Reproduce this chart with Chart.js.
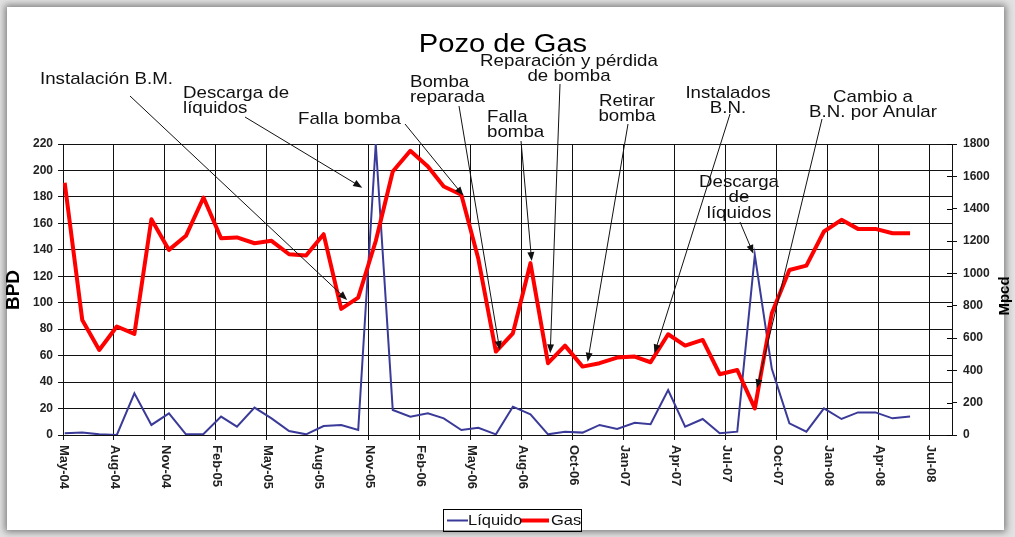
<!DOCTYPE html>
<html>
<head>
<meta charset="utf-8">
<script src="https://cdn.jsdelivr.net/npm/chart.js@4.4.1/dist/chart.umd.min.js"></script>
<style>
  html, body { margin: 0; padding: 0; width: 1015px; height: 537px; overflow: hidden; background: #e2e2e2; }
  #panel { position: absolute; left: 7px; top: 7px; width: 997px; height: 523px; background: #fff;
           box-shadow: 0 0 7px 2px rgba(0,0,0,0.45); }
  #wrap { position: absolute; left: 0; top: 0; width: 1015px; height: 537px; }
</style>
</head>
<body>
<div id="panel"></div>
<div id="wrap"><canvas id="c"></canvas></div>
<script>
// Monthly production records (one sample per month, dated mid-month)
const months = [
  '2004-05','2004-06','2004-07','2004-08','2004-09','2004-10','2004-11','2004-12',
  '2005-01','2005-02','2005-03','2005-04','2005-05','2005-06','2005-07','2005-08','2005-09','2005-10','2005-11','2005-12',
  '2006-01','2006-02','2006-03','2006-04','2006-05','2006-06','2006-07','2006-08','2006-09','2006-10','2006-11','2006-12',
  '2007-01','2007-02','2007-03','2007-04','2007-05','2007-06','2007-07','2007-08','2007-09','2007-10','2007-11','2007-12',
  '2008-01','2008-02','2008-03','2008-04','2008-05','2008-06'
];

// Liquid rate, BPD (left axis)
const liquido = [
  1.3, 1.8, 0.5, 0, 31.5, 7.6, 16.4, 0.5,
  0.8, 13.9, 6.3, 20.7, 12.6, 3.0, 0.5, 6.8, 7.6, 3.8, 220, 18.9,
  13.9, 16.4, 12.6, 3.8, 5.5, 0.5, 21.4, 15.6, 0.5, 2.5, 1.8, 7.6,
  4.5, 9.2, 8.1, 34.0, 6.3, 12.1, 1.3, 2.5, 136, 50, 8.8, 2.5,
  20.2, 12.1, 17.1, 17.1, 12.6, 13.9
];

// Gas rate, Mpcd (right axis)
const gas = [
  1560, 712, 526, 671, 625, 1335, 1145, 1232,
  1469, 1217, 1222, 1186, 1201, 1118, 1110, 1242, 780, 850, 1200, 1630,
  1758, 1661, 1537, 1486, 1090, 516, 629, 1063, 444, 553, 423, 444,
  479, 485, 450, 623, 553, 588, 376, 402, 165, 753, 1021, 1048,
  1259, 1331, 1275, 1275, 1248, 1248
];

// Date axis: major unit of 90 days starting 13-May-2004
const tickLabels = ['May-04','Aug-04','Nov-04','Feb-05','May-05','Aug-05','Nov-05','Feb-06','May-06',
                    'Aug-06','Oct-06','Jan-07','Apr-07','Jul-07','Oct-07','Jan-08','Apr-08','Jul-08'];
const tickStepDays = 90;
const axisStart = Date.UTC(2004, 4, 13);
const axisSpanDays = 1569;

const bpdTicks = { min: 0, max: 220, step: 20 };
const mpcdTicks = { min: 0, max: 1800, step: 200 };

const DAY = 86400000;
const dayOf = ym => {
  const [y, m] = ym.split('-').map(Number);
  return (Date.UTC(y, m - 1, 16) - axisStart) / DAY;
};
const xDays = months.map(dayOf);
const xAtIndex = f => {
  const i = Math.min(Math.floor(f), xDays.length - 2);
  return xDays[i] + (xDays[i + 1] - xDays[i]) * (f - i);
};

// Event notes: text block, arrow start, and arrow target in data space [month index, value, axis]
const notes = [
  { text: ['Instalación B.M.'], x: 40, y: 79, align: 'left', from: [130, 96], at: [16.35, 835, 'y1'] },
  { text: ['Descarga de', 'líquidos'], x: 183, y: 93, align: 'left', from: [245, 117], at: [17.23, 187, 'y'] },
  { text: ['Falla bomba'], x: 298, y: 119, align: 'left', from: [405, 124], at: [23.12, 1481, 'y1'] },
  { text: ['Bomba', 'reparada'], x: 410, y: 82, align: 'left', from: [459, 106], at: [25.23, 526, 'y1'] },
  { text: ['Reparación y pérdida', 'de bomba'], x: 569, y: 61, align: 'center', from: [560, 84], at: [28.13, 505, 'y1'] },
  { text: ['Falla', 'bomba'], x: 487, y: 117, align: 'left', from: [521, 141], at: [27.07, 1076, 'y1'] },
  { text: ['Retirar', 'bomba'], x: 627, y: 101, align: 'center', from: [628, 124], at: [30.3, 453, 'y1'] },
  { text: ['Instalados', 'B.N.'], x: 728, y: 93, align: 'center', from: [730, 114], at: [34.22, 505, 'y1'] },
  { text: ['Cambio a', 'B.N. por Anular'], x: 873, y: 97, align: 'center', from: [822, 119], at: [40.12, 289, 'y1'] },
  { text: ['Descarga', 'de', 'líquidos'], x: 739, y: 182, align: 'center', from: [740, 222], at: [39.92, 137, 'y'] }
];

const FONT = '"Liberation Sans", Arial, Helvetica, sans-serif';
const BLUE = '#3a3a98';
const RED = '#ff0000';

function wideText(ctx, str, x, y, align, sx) {
  ctx.save();
  ctx.translate(x, y);
  ctx.scale(sx, 1);
  ctx.textAlign = align;
  ctx.fillText(str, 0, 0);
  ctx.restore();
}

function arrow(ctx, x0, y0, x1, y1) {
  const a = Math.atan2(y1 - y0, x1 - x0), L = 9, W = 3.5;
  const c = Math.cos(a), s = Math.sin(a);
  ctx.beginPath();
  ctx.moveTo(x0, y0);
  ctx.lineTo(x1 - L * 0.6 * c, y1 - L * 0.6 * s);
  ctx.stroke();
  ctx.beginPath();
  ctx.moveTo(x1, y1);
  ctx.lineTo(x1 - L * c + W * s, y1 - L * s - W * c);
  ctx.lineTo(x1 - L * c - W * s, y1 - L * s + W * c);
  ctx.closePath();
  ctx.fill();
}

const decor = {
  id: 'decor',
  afterDraw(chart) {
    const ctx = chart.ctx;
    const xs = chart.scales.x, yr = chart.scales.y1;
    ctx.save();

    // inner half of the right-axis tick marks
    ctx.strokeStyle = '#000';
    ctx.lineWidth = 1;
    yr.ticks.forEach(t => {
      const py = Math.round(yr.getPixelForValue(t.value)) + 0.5;
      ctx.beginPath();
      ctx.moveTo(yr.left - 5, py);
      ctx.lineTo(yr.left, py);
      ctx.stroke();
    });

    // date labels, rotated clockwise
    ctx.fillStyle = '#222';
    ctx.font = 'bold 13px ' + FONT;
    ctx.textAlign = 'left';
    ctx.textBaseline = 'middle';
    tickLabels.forEach((lab, j) => {
      const px = xs.getPixelForValue(j * tickStepDays);
      ctx.save();
      ctx.translate(px + 0.5, xs.top + 10);
      ctx.rotate(Math.PI / 2);
      ctx.fillText(lab, 0, 0);
      ctx.restore();
    });

    // axis titles
    ctx.fillStyle = '#000';
    ctx.textAlign = 'center';
    ctx.font = 'bold 19px ' + FONT;
    ctx.save(); ctx.translate(14, 290); ctx.rotate(-Math.PI / 2); ctx.fillText('BPD', 0, 0); ctx.restore();
    ctx.font = 'bold 15px ' + FONT;
    ctx.save(); ctx.translate(1005, 296); ctx.rotate(-Math.PI / 2); ctx.fillText('Mpcd', 0, 0); ctx.restore();

    // chart title
    ctx.fillStyle = '#000';
    ctx.font = '26px ' + FONT;
    ctx.textBaseline = 'alphabetic';
    wideText(ctx, 'Pozo de Gas', 503, 52, 'center', 1.12);

    // event notes with arrows
    ctx.fillStyle = '#111';
    ctx.strokeStyle = '#111';
    ctx.lineWidth = 1;
    ctx.font = '17px ' + FONT;
    ctx.textBaseline = 'middle';
    notes.forEach(n => {
      n.text.forEach((line, k) => wideText(ctx, line, n.x, n.y + k * 15.5, n.align, 1.1));
      const sc = chart.scales[n.at[2]];
      const tx = xs.getPixelForValue(xAtIndex(n.at[0]));
      const ty = sc.getPixelForValue(n.at[1]);
      arrow(ctx, n.from[0], n.from[1], tx, ty);
    });

    // legend
    ctx.strokeStyle = '#000';
    ctx.lineWidth = 1;
    ctx.strokeRect(443.5, 509.5, 138, 22);
    ctx.strokeStyle = BLUE; ctx.lineWidth = 2;
    ctx.beginPath(); ctx.moveTo(447, 520.5); ctx.lineTo(468, 520.5); ctx.stroke();
    ctx.strokeStyle = RED; ctx.lineWidth = 4;
    ctx.beginPath(); ctx.moveTo(521, 520.5); ctx.lineTo(549, 520.5); ctx.stroke();
    ctx.fillStyle = '#111';
    ctx.font = '15px ' + FONT;
    ctx.textBaseline = 'middle';
    wideText(ctx, 'Líquido', 468, 521, 'left', 1.1);
    wideText(ctx, 'Gas', 551, 521, 'left', 1.1);

    ctx.restore();
  }
};

const gridColor = '#111';

new Chart(document.getElementById('c'), {
  type: 'line',
  data: {
    datasets: [
      {
        label: 'Líquido',
        data: liquido.map((v, i) => ({ x: xDays[i], y: v })),
        yAxisID: 'y',
        borderColor: BLUE,
        borderWidth: 2,
        pointRadius: 0,
        tension: 0,
        order: 2
      },
      {
        label: 'Gas',
        data: gas.map((v, i) => ({ x: xDays[i], y: v })),
        yAxisID: 'y1',
        borderColor: RED,
        borderWidth: 4,
        borderJoinStyle: 'round',
        pointRadius: 0,
        tension: 0,
        order: 1
      }
    ]
  },
  options: {
    responsive: true,
    maintainAspectRatio: false,
    animation: false,
    layout: { padding: { left: 0, right: 0, top: 144, bottom: 102 } },
    plugins: { legend: { display: false }, title: { display: false }, tooltip: { enabled: false } },
    scales: {
      x: {
        type: 'linear',
        position: 'bottom',
        min: 0,
        max: axisSpanDays,
        afterBuildTicks: s => { s.ticks = tickLabels.map((_, j) => ({ value: j * tickStepDays })); },
        afterFit: s => { s.height = 0; },
        ticks: { display: false },
        grid: { color: gridColor, lineWidth: 1, tickLength: 5, drawTicks: true },
        border: { display: true, color: gridColor, width: 1 }
      },
      y: {
        position: 'left',
        min: bpdTicks.min,
        max: bpdTicks.max,
        afterFit: s => { s.width = 63; },
        ticks: { stepSize: bpdTicks.step, padding: 5, color: '#222', callback: v => String(v),
                 font: { family: FONT, size: 12, weight: 'bold' } },
        grid: { color: gridColor, lineWidth: 1, tickLength: 5 },
        border: { display: true, color: gridColor, width: 1 }
      },
      y1: {
        position: 'right',
        min: mpcdTicks.min,
        max: mpcdTicks.max,
        afterFit: s => { s.width = 63; },
        ticks: { stepSize: mpcdTicks.step, padding: 6, color: '#222', callback: v => String(v),
                 font: { family: FONT, size: 12, weight: 'bold' } },
        grid: { drawOnChartArea: false, color: gridColor, lineWidth: 1, tickLength: 5 },
        border: { display: true, color: gridColor, width: 1 }
      }
    }
  },
  plugins: [decor]
});
</script>
</body>
</html>
